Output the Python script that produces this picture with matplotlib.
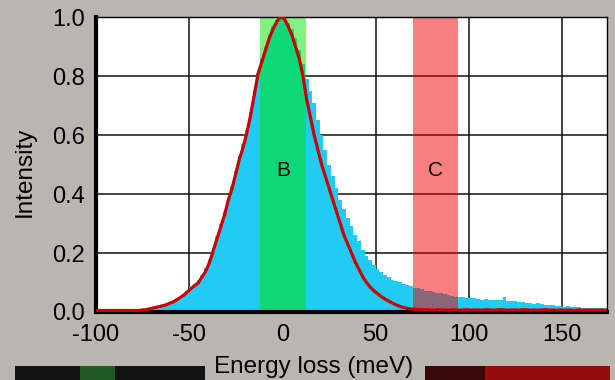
#!/usr/bin/env python3
"""Energy-loss spectrum with integration windows B and C."""

import matplotlib

matplotlib.use("Agg")
import matplotlib.pyplot as plt
import numpy as np
from matplotlib.patches import Rectangle

# histogram (2 meV bins starting at -100 meV)
BIN_START = -100
BIN_WIDTH = 2
hist_counts = [
    0, 0, 0, 0, 0, 0, 0, 0, 0, 0, 0, 0,
    0.004, 0.006, 0.009, 0.013, 0.017, 0.022, 0.026, 0.031, 0.036, 0.043,
    0.051, 0.060, 0.071, 0.084, 0.095, 0.107, 0.127, 0.148, 0.178, 0.218,
    0.258, 0.298, 0.338, 0.388, 0.428, 0.478, 0.528, 0.568, 0.618, 0.678,
    0.748, 0.810, 0.860, 0.900, 0.940, 0.970, 0.990, 1.000, 1.000, 0.980,
    0.960, 0.930, 0.890, 0.840, 0.790, 0.750, 0.710, 0.650, 0.600, 0.550,
    0.500, 0.460, 0.420, 0.380, 0.350, 0.320, 0.290, 0.260, 0.240, 0.210,
    0.190, 0.175, 0.160, 0.145, 0.135, 0.125, 0.120, 0.110, 0.105, 0.100,
    0.095, 0.090, 0.087, 0.083, 0.080, 0.077, 0.072, 0.070, 0.068, 0.066,
    0.064, 0.060, 0.058, 0.055, 0.052, 0.050, 0.052, 0.048, 0.046, 0.047,
    0.044, 0.042, 0.045, 0.041, 0.040, 0.042, 0.039, 0.050, 0.038, 0.036,
    0.038, 0.033, 0.035, 0.030, 0.032, 0.028, 0.030, 0.026, 0.024, 0.025,
    0.022, 0.020, 0.021, 0.018, 0.019, 0.017, 0.016, 0.018, 0.015, 0.014,
    0.013, 0.015, 0.012, 0.013, 0.014,
]

# fitted curve, sampled at the bin centres
fit_curve = [
    0.005, 0.005, 0.005, 0.005, 0.005, 0.005, 0.005, 0.005, 0.005, 0.005, 0.005, 0.005,
    0.007, 0.008, 0.011, 0.014, 0.017, 0.020, 0.023, 0.028, 0.033, 0.040,
    0.048, 0.057, 0.068, 0.080, 0.090, 0.100, 0.120, 0.140, 0.170, 0.210,
    0.250, 0.290, 0.330, 0.380, 0.420, 0.470, 0.520, 0.560, 0.610, 0.670,
    0.740, 0.810, 0.850, 0.890, 0.930, 0.960, 0.985, 1.000, 0.995, 0.970,
    0.940, 0.900, 0.860, 0.800, 0.720, 0.660, 0.600, 0.550, 0.500, 0.460,
    0.420, 0.380, 0.340, 0.300, 0.260, 0.230, 0.200, 0.170, 0.145, 0.120,
    0.100, 0.085, 0.072, 0.062, 0.052, 0.044, 0.037, 0.030, 0.024, 0.019,
    0.015, 0.012, 0.010, 0.009, 0.008, 0.007, 0.008, 0.007, 0.006, 0.008,
    0.007, 0.007, 0.006, 0.008, 0.007, 0.006, 0.007, 0.008, 0.006, 0.007,
    0.007, 0.006, 0.008, 0.007, 0.006, 0.007, 0.008, 0.007, 0.006, 0.007,
    0.007, 0.006, 0.008, 0.007, 0.006, 0.007, 0.006, 0.007, 0.008, 0.006,
    0.007, 0.006, 0.007, 0.006, 0.007, 0.006, 0.006, 0.007, 0.006, 0.007,
    0.006, 0.007, 0.006, 0.007, 0.006,
]

windows = {"B": (-12, 12.5), "C": (70, 94)}
window_colors = {"B": (0.0, 0.9, 0.0, 0.5), "C": (0.95, 0.0, 0.0, 0.5)}
label_y = 0.48

x_ticks = [-100, -50, 0, 50, 100, 150]
y_ticks = [0.0, 0.2, 0.4, 0.6, 0.8, 1.0]

plt.rcParams["font.family"] = ["Liberation Sans", "DejaVu Sans"]
plt.rcParams["axes.unicode_minus"] = False

fig = plt.figure(figsize=(6.15, 3.8), dpi=100, facecolor="#b9b6b0")
ax = fig.add_axes([0.156, 0.179, 0.831, 0.776])
ax.set_facecolor("white")

edges = BIN_START + BIN_WIDTH * np.arange(len(hist_counts) + 1)
centres = edges[:-1] + BIN_WIDTH / 2

ax.stairs(hist_counts, edges, fill=True, color="#22cbf3", zorder=1)
for name, (lo, hi) in windows.items():
    ax.axvspan(lo, hi, color=window_colors[name], lw=0, zorder=2)
    ax.text((lo + hi) / 2, label_y, name, ha="center", va="center", fontsize=15, zorder=4)
ax.plot(centres, fit_curve, color="#cc0000", lw=2.3, zorder=3)

ax.set_xlim(-100, 174)
ax.set_ylim(0, 1.0)
ax.set_xticks(x_ticks)
ax.set_yticks(y_ticks)
ax.set_yticklabels([f"{v:.1f}" for v in y_ticks])
ax.tick_params(length=0, labelsize=17)
ax.tick_params(axis="x", pad=9)
ax.tick_params(axis="y", pad=8)
ax.grid(color="#111111", lw=1.1)
ax.set_axisbelow(True)

for side in ("left", "bottom"):
    ax.spines[side].set_linewidth(3.0)
for side in ("top", "right"):
    ax.spines[side].set_linewidth(1.0)

ax.set_xlabel("Energy loss (meV)", fontsize=17.5)
ax.xaxis.set_label_coords(0.425, -0.15)
ax.set_ylabel("Intensity", fontsize=17.5)
ax.yaxis.set_label_coords(-0.118, 0.475)

# dark strips cut off at the bottom edge of the picture
fig.add_artist(Rectangle((15 / 615, 0), 190 / 615, 14 / 380, transform=fig.transFigure,
                         color="#121212", lw=0))
fig.add_artist(Rectangle((80 / 615, 0), 35 / 615, 14 / 380, transform=fig.transFigure,
                         color="#1f5a22", lw=0))
fig.add_artist(Rectangle((425 / 615, 0), 60 / 615, 14 / 380, transform=fig.transFigure,
                         color="#3a0808", lw=0))
fig.add_artist(Rectangle((485 / 615, 0), 125 / 615, 14 / 380, transform=fig.transFigure,
                         color="#960c0c", lw=0))

fig.savefig("out.png", dpi=100, facecolor=fig.get_facecolor())
